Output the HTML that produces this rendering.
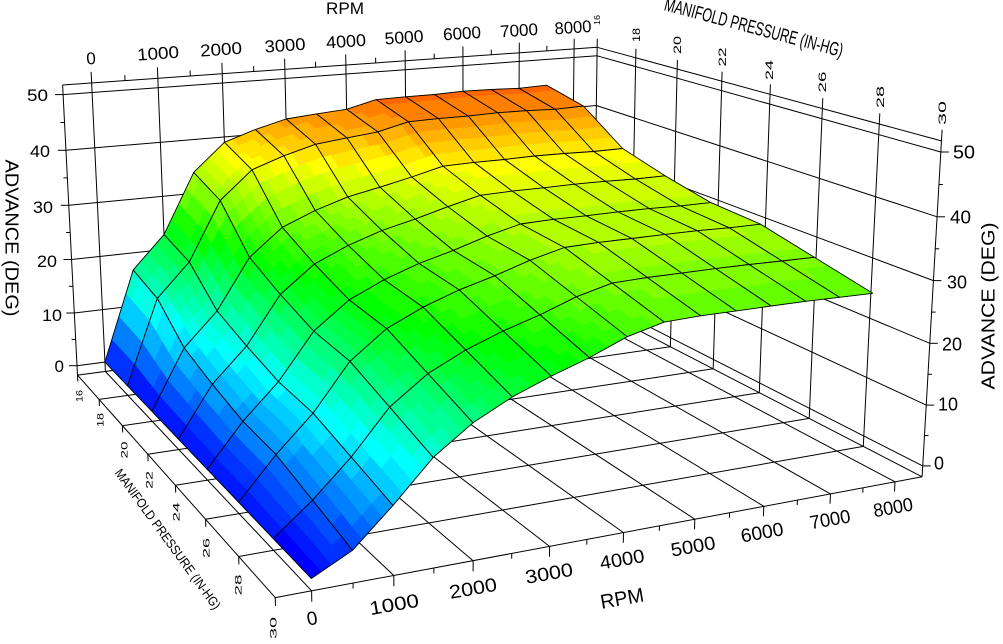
<!DOCTYPE html>
<html><head><meta charset="utf-8"><style>
html,body{margin:0;padding:0;background:#fff;}
svg{display:block}
text{font-family:"Liberation Sans",Arial,sans-serif;fill:#000}
</style></head><body>
<svg id="c" width="1003" height="644" viewBox="0 0 1003 644" xmlns="http://www.w3.org/2000/svg">
<rect width="1003" height="644" fill="#fff"/>
<g id="box" stroke="#000" stroke-width="1" fill="none"></g>
<g id="surf" stroke-linejoin="round"></g>
<g id="labels">
 <text x="345" y="14" font-size="17" text-anchor="middle" textLength="38" lengthAdjust="spacingAndGlyphs">RPM</text>
 <g font-size="17">
  <text transform="translate(91,58) rotate(-4)" text-anchor="middle" dy="0.36em">0</text>
  <text transform="translate(158,53) rotate(-4)" text-anchor="middle" dy="0.36em" textLength="42" lengthAdjust="spacingAndGlyphs">1000</text>
  <text transform="translate(221,49) rotate(-4)" text-anchor="middle" dy="0.36em" textLength="42" lengthAdjust="spacingAndGlyphs">2000</text>
  <text transform="translate(285,45) rotate(-4)" text-anchor="middle" dy="0.36em" textLength="41" lengthAdjust="spacingAndGlyphs">3000</text>
  <text transform="translate(346,41) rotate(-4)" text-anchor="middle" dy="0.36em" textLength="40" lengthAdjust="spacingAndGlyphs">4000</text>
  <text transform="translate(404,37) rotate(-4)" text-anchor="middle" dy="0.36em" textLength="39" lengthAdjust="spacingAndGlyphs">5000</text>
  <text transform="translate(462,33) rotate(-4)" text-anchor="middle" dy="0.36em" textLength="38" lengthAdjust="spacingAndGlyphs">6000</text>
  <text transform="translate(519,30) rotate(-4)" text-anchor="middle" dy="0.36em" textLength="38" lengthAdjust="spacingAndGlyphs">7000</text>
  <text transform="translate(573,27) rotate(-4)" text-anchor="middle" dy="0.36em" textLength="37" lengthAdjust="spacingAndGlyphs">8000</text>
 </g>
 <g font-size="19">
  <text transform="translate(312,618) rotate(-10)" text-anchor="middle" dy="0.36em">0</text>
  <text transform="translate(394,604) rotate(-10)" text-anchor="middle" dy="0.36em" textLength="50" lengthAdjust="spacingAndGlyphs">1000</text>
  <text transform="translate(473,588) rotate(-10)" text-anchor="middle" dy="0.36em" textLength="48" lengthAdjust="spacingAndGlyphs">2000</text>
  <text transform="translate(549,573) rotate(-10)" text-anchor="middle" dy="0.36em" textLength="48" lengthAdjust="spacingAndGlyphs">3000</text>
  <text transform="translate(622,559) rotate(-10)" text-anchor="middle" dy="0.36em" textLength="45" lengthAdjust="spacingAndGlyphs">4000</text>
  <text transform="translate(693,546) rotate(-10)" text-anchor="middle" dy="0.36em" textLength="45" lengthAdjust="spacingAndGlyphs">5000</text>
  <text transform="translate(762,532) rotate(-10)" text-anchor="middle" dy="0.36em" textLength="43" lengthAdjust="spacingAndGlyphs">6000</text>
  <text transform="translate(830,519) rotate(-10)" text-anchor="middle" dy="0.36em" textLength="41" lengthAdjust="spacingAndGlyphs">7000</text>
  <text transform="translate(893,507) rotate(-10)" text-anchor="middle" dy="0.36em" textLength="40" lengthAdjust="spacingAndGlyphs">8000</text>
  <text transform="translate(622,598) rotate(-10)" text-anchor="middle" dy="0.36em" font-size="20" textLength="44" lengthAdjust="spacingAndGlyphs">RPM</text>
 </g>
 <g font-size="17" text-anchor="end">
  <text x="48" y="95" dy="0.36em" textLength="21" lengthAdjust="spacingAndGlyphs">50</text>
  <text x="50" y="151" dy="0.36em" textLength="20" lengthAdjust="spacingAndGlyphs">40</text>
  <text x="53" y="207" dy="0.36em" textLength="20" lengthAdjust="spacingAndGlyphs">30</text>
  <text x="57" y="261" dy="0.36em" textLength="20" lengthAdjust="spacingAndGlyphs">20</text>
  <text x="62" y="315" dy="0.36em" textLength="20" lengthAdjust="spacingAndGlyphs">10</text>
  <text x="64" y="366" dy="0.36em">0</text>
 </g>
 <g font-size="18">
  <text x="953" y="152" dy="0.36em" textLength="22" lengthAdjust="spacingAndGlyphs">50</text>
  <text x="950" y="217" dy="0.36em" textLength="21" lengthAdjust="spacingAndGlyphs">40</text>
  <text x="947" y="282" dy="0.36em" textLength="20" lengthAdjust="spacingAndGlyphs">30</text>
  <text x="942" y="344" dy="0.36em" textLength="20" lengthAdjust="spacingAndGlyphs">20</text>
  <text x="938" y="404" dy="0.36em" textLength="20" lengthAdjust="spacingAndGlyphs">10</text>
  <text x="934" y="463" dy="0.36em">0</text>
 </g>
 <text transform="translate(12,238) rotate(90)" font-size="18" text-anchor="middle" dy="0.36em" textLength="157" lengthAdjust="spacingAndGlyphs">ADVANCE  (DEG)</text>
 <text transform="translate(988,306) rotate(-90)" font-size="18" text-anchor="middle" dy="0.36em" textLength="167" lengthAdjust="spacingAndGlyphs">ADVANCE  (DEG)</text>
 <g font-size="11" text-anchor="middle">
  <text transform="translate(597,20) rotate(-90)" dy="0.36em" font-size="8" textLength="10" lengthAdjust="spacingAndGlyphs">16</text>
  <text transform="translate(636,35) rotate(-90)" dy="0.36em" textLength="14" lengthAdjust="spacingAndGlyphs">18</text>
  <text transform="translate(677,45) rotate(-90)" dy="0.36em" textLength="18" lengthAdjust="spacingAndGlyphs">20</text>
  <text transform="translate(722,57) rotate(-90)" dy="0.36em" textLength="19" lengthAdjust="spacingAndGlyphs">22</text>
  <text transform="translate(769,70) rotate(-90)" dy="0.36em" textLength="20" lengthAdjust="spacingAndGlyphs">24</text>
  <text transform="translate(822,82) rotate(-90)" dy="0.36em" textLength="21" lengthAdjust="spacingAndGlyphs">26</text>
  <text transform="translate(880,97) rotate(-90)" dy="0.36em" textLength="22" lengthAdjust="spacingAndGlyphs">28</text>
  <text transform="translate(942,113) rotate(-90)" dy="0.36em" textLength="24" lengthAdjust="spacingAndGlyphs">30</text>
 </g>
 <g font-size="9" text-anchor="middle">
  <text transform="translate(79,396) rotate(-90)" dy="0.36em" textLength="12" lengthAdjust="spacingAndGlyphs">16</text>
  <text transform="translate(100,420) rotate(-90)" dy="0.36em" textLength="14" lengthAdjust="spacingAndGlyphs">18</text>
  <text transform="translate(124,450) rotate(-90)" dy="0.36em" textLength="17" lengthAdjust="spacingAndGlyphs">20</text>
  <text transform="translate(149,480) rotate(-90)" dy="0.36em" textLength="18" lengthAdjust="spacingAndGlyphs">22</text>
  <text transform="translate(176,512) rotate(-90)" dy="0.36em" textLength="19" lengthAdjust="spacingAndGlyphs">24</text>
  <text transform="translate(206,548) rotate(-90)" dy="0.36em" textLength="20" lengthAdjust="spacingAndGlyphs">26</text>
  <text transform="translate(238,585) rotate(-90)" dy="0.36em" textLength="21" lengthAdjust="spacingAndGlyphs">28</text>
  <text transform="translate(273,628) rotate(-90)" dy="0.36em" textLength="22" lengthAdjust="spacingAndGlyphs">30</text>
 </g>
 <text transform="translate(168,539) rotate(54)" font-size="13" text-anchor="middle" dy="0.36em" textLength="170" lengthAdjust="spacingAndGlyphs">MANIFOLD PRESSURE  (IN-HG)</text>
 <text transform="translate(754,27) rotate(14.8)" font-size="19" text-anchor="middle" dy="0.36em" textLength="184" lengthAdjust="spacingAndGlyphs">MANIFOLD PRESSURE (IN-HG)</text>
</g>
</svg>
<script>
(function(){
var X0=-0.43,X1=8.43,ZF=-1.8,ZT=51.7;
var pts=[
[X0,16,0,77,366],[X0,16,50,63,94],[X1,30,0,923,464],[X1,30,50,941,152],
[X0,30,ZF,275,597],[X1,16,50,597,55],[X1,16,ZF,592,308],
[0,30,ZF,312,590],[2,30,ZF,473,562],[4,30,ZF,623,533],[6,30,ZF,764,507],[8,30,ZF,895,483],
[X0,20,ZF,123,425],[X0,24,ZF,175,485],[X0,28,ZF,238,557],
[X1,24,ZF,760,392],[X1,28,ZF,864,445],
[X1,20,ZT,677,69],[X1,26,ZT,822,109],
[0,16,ZT,91,83],[4,16,ZT,346,65],[8,16,ZT,575,49],
[X1,30,ZT,941,142],[X0,16,ZT,63,85],[X0,16,ZF,78,376]
];
var n=11,N=[],c=[],i,j,k;
for(i=0;i<n;i++){N.push(new Array(n).fill(0));c.push(0);}
function addRow(r,rhs){for(var a=0;a<n;a++){c[a]+=r[a]*rhs;for(var b=0;b<n;b++)N[a][b]+=r[a]*r[b];}}
pts.forEach(function(p){var x=p[0]/8,y=(p[1]-16)/14,z=p[2]/50,u=p[3]/1000,v=p[4]/1000;
 addRow([x,y,z,1,0,0,0,0,-u*x,-u*y,-u*z],u);
 addRow([0,0,0,0,x,y,z,1,-v*x,-v*y,-v*z],v);});
function solve(A,b){var m=b.length;for(var a=0;a<m;a++){var piv=a;for(var r=a+1;r<m;r++)if(Math.abs(A[r][a])>Math.abs(A[piv][a]))piv=r;
 var t=A[a];A[a]=A[piv];A[piv]=t;t=b[a];b[a]=b[piv];b[piv]=t;
 for(var r2=a+1;r2<m;r2++){var f=A[r2][a]/A[a][a];for(var q=a;q<m;q++)A[r2][q]-=f*A[a][q];b[r2]-=f*b[a];}}
 var x=new Array(m).fill(0);for(var a2=m-1;a2>=0;a2--){var s=b[a2];for(var q2=a2+1;q2<m;q2++)s-=A[a2][q2]*x[q2];x[a2]=s/A[a2][a2];}return x;}
var P=solve(N,c);
function pr(X,Y,Z){var x=X/8,y=(Y-16)/14,z=Z/50;var w=P[8]*x+P[9]*y+P[10]*z+1;
 return [(P[0]*x+P[1]*y+P[2]*z+P[3])/w*1000,(P[4]*x+P[5]*y+P[6]*z+P[7])/w*1000,w];}
var NS="http://www.w3.org/2000/svg";
function el(parent,tag,attrs){var e=document.createElementNS(NS,tag);for(var kk in attrs)e.setAttribute(kk,attrs[kk]);parent.appendChild(e);return e;}
var box=document.getElementById('box'),surf=document.getElementById('surf');
function ln(a,b){el(box,'line',{x1:a[0].toFixed(1),y1:a[1].toFixed(1),x2:b[0].toFixed(1),y2:b[1].toFixed(1)});}
function L3(A,B){ln(pr(A[0],A[1],A[2]),pr(B[0],B[1],B[2]));}
var Y,X,Z;
for(Y=16;Y<=30;Y+=2)L3([X0,Y,ZF],[X1,Y,ZF]);
[X0,0,1,2,3,4,5,6,7,8,X1].forEach(function(x){L3([x,16,ZF],[x,30,ZF]);});
[0,10,20,30,40,50,ZT].forEach(function(z){L3([X0,16,z],[X1,16,z]);});
L3([X0,16,ZF],[X0,16,ZT]);
for(X=0;X<=8;X++)L3([X,16,ZF],[X,16,ZT+2]);
for(X=0.5;X<8;X+=1)L3([X,16,ZT],[X,16,ZT+1]);
[0,10,20,30,40,50,ZT].forEach(function(z){L3([X1,16,z],[X1,30,z]);});
for(Y=16;Y<=30;Y+=2)L3([X1,Y,ZF],[X1,Y,ZT+1.7]);
for(Z=0;Z<=50;Z+=5){var p=pr(X0,16,Z);ln([p[0]-(Z%10?4:8),p[1]],p);
 var q=pr(X1,30,Z);ln(q,[q[0]+(Z%10?4:8),q[1]]);}
for(X=0;X<=8.01;X+=0.5)L3([X,30,ZF],[X,30,ZF-(Math.abs(X-Math.round(X))>0.1?0.8:1.6)]);
for(Y=16;Y<=30;Y+=2)L3([X0,Y,ZF],[X0,Y,ZF-1.2]);
var R16=[0,16.8,22.8,33.9,39,40.9,42.4,42.9,43.3,44.7,44.8,44.8,45,44.9,44.7,44.9];
var R30=[0,3,8.5,14.5,18.6,21.5,23.7,25.6,27.9,29.3,29.5,29.5,29.5,29.5,29.4,29.3];
var W=[1,.89,.54,.40,.29,.26,.13,0];
function Zg(a,b){return R30[a]+(R16[a]-R30[a])*W[b];}
var quads=[];
for(j=0;j<7;j++)for(i=0;i<15;i++){
 var cs=[[i,j],[i+1,j],[i+1,j+1],[i,j+1]].map(function(ab){return [ab[0]*0.5,16+2*ab[1],Zg(ab[0],ab[1])];});
 var cx=(cs[0][0]+cs[2][0])/2,cy=(cs[0][1]+cs[2][1])/2,cz=(cs[0][2]+cs[1][2]+cs[2][2]+cs[3][2])/4;
 quads.push({c:cs,d:pr(cx,cy,cz)[2]});}
var far=pr(X1,16,0)[2]>pr(X0,30,0)[2]?-1:1;
quads.sort(function(a,b){return far*(a.d-b.d);});
var S=4;
function bl(cc,s,t){var r=[0,0,0];for(var kk=0;kk<3;kk++)r[kk]=(1-s)*(1-t)*cc[0][kk]+s*(1-t)*cc[1][kk]+s*t*cc[2][kk]+(1-s)*t*cc[3][kk];return r;}
function color(z){var t=Math.max(0,Math.min(1,z/50));t=Math.round(t*40)/40;var h=240*(1-t);return 'hsl('+h.toFixed(1)+',100%,50%)';}
function ptstr(v){var s=pr(v[0],v[1],v[2]);return s[0].toFixed(1)+','+s[1].toFixed(1);}
quads.forEach(function(qd){
 for(var a=0;a<S;a++)for(var b=0;b<S;b++){
  var pp=[bl(qd.c,a/S,b/S),bl(qd.c,(a+1)/S,b/S),bl(qd.c,(a+1)/S,(b+1)/S),bl(qd.c,a/S,(b+1)/S)];
  var zc=(pp[0][2]+pp[1][2]+pp[2][2]+pp[3][2])/4;var col=color(zc);
  el(surf,'polygon',{points:pp.map(ptstr).join(' '),fill:col,stroke:col,'stroke-width':0.7});
 }
 el(surf,'polygon',{points:qd.c.map(ptstr).join(' '),fill:'none',stroke:'#000','stroke-width':0.9});
});
})();
</script>
</body></html>
